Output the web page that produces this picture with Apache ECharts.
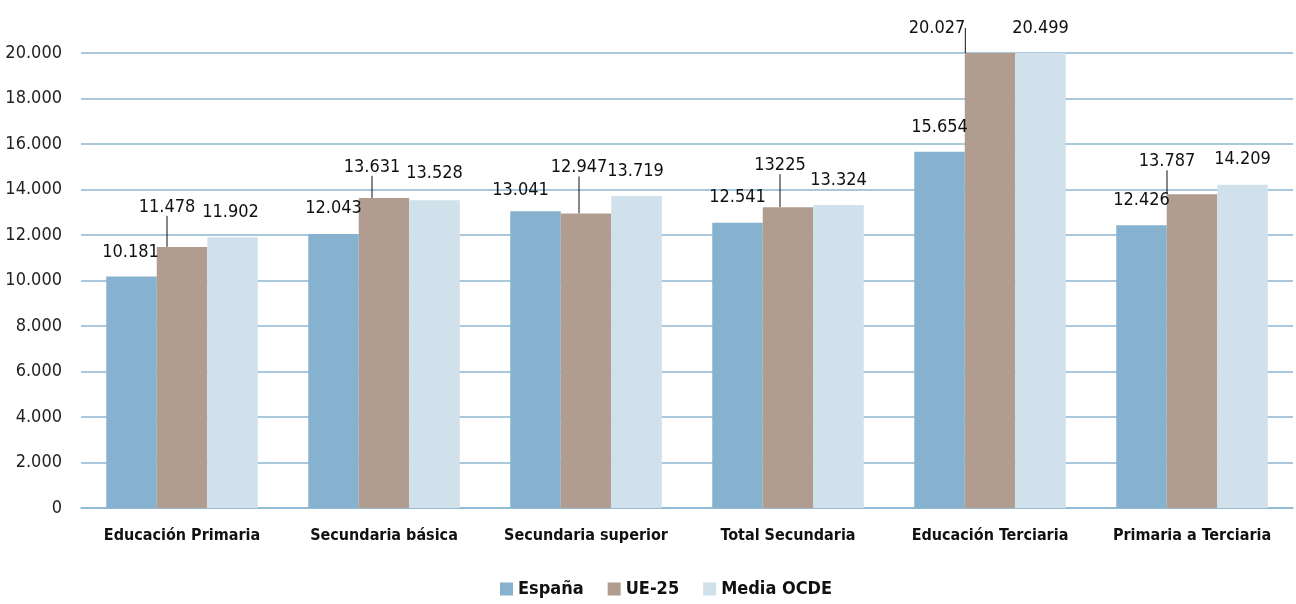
<!DOCTYPE html>
<html>
<head>
<meta charset="utf-8">
<script src="https://cdn.jsdelivr.net/npm/echarts@6/dist/echarts.min.js"></script>
<style>
html,body{margin:0;padding:0;background:#fff;}
#chart{width:1296px;height:604px;}
</style>
</head>
<body>
<div id="chart"></div>
<script>
const categories = ['Educación Primaria','Secundaria básica','Secundaria superior','Total Secundaria','Educación Terciaria','Primaria a Terciaria'];
const seriesNames = ['España','UE-25','Media OCDE'];
const espana = [10181, 12043, 13041, 12541, 15654, 12426];
const ue25 = [11478, 13631, 12947, 13225, 20027, 13787];
const ocde = [11902, 13528, 13719, 13324, 20499, 14209];
const labelTexts = [
  ['10.181','12.043','13.041','12.541','15.654','12.426'],
  ['11.478','13.631','12.947','13225','20.027','13.787'],
  ['11.902','13.528','13.719','13.324','20.499','14.209']
];
const yTicks = {min:0, max:20000, interval:2000};

// label nudges (dx, dy) relative to default top placement
const labelNudge = [
  [[-1,1],[0,-1],[-15,4],[0,0],[0,0],[0,0]],
  [[-15,-15],[-12,-6],[-7,-21],[-8,-17],[-53,0],[-25,-8]],
  [[-2,0],[0,-2],[-1,0],[0,0],[0,0],[0,0]]
];

const colors = ['#87B2CF','#B09D8F','#D0E1EB'];
const FONT = "'DejaVu Sans',sans-serif";
const STRETCH = 'condensed';

function fmtThousands(v){
  if (v === 0) return '0';
  return String(v).replace(/\B(?=(\d{3})+(?!\d))/g, '.');
}

const dataSets = [espana, ue25, ocde];
const series = dataSets.map((d, si) => ({
  name: seriesNames[si],
  type: 'bar',
  data: d,
  barGap: '0%',
  barCategoryGap: '25%',
  itemStyle: {color: colors[si]},
  label: {
    show: true,
    position: 'top',
    distance: 16,
    fontFamily: FONT,
    fontStyle: STRETCH,
    fontSize: 18,
    color: '#111',
    formatter: p => labelTexts[si][p.dataIndex]
  },
  labelLine: {
    show: si === 1,
    lineStyle: {color: '#111', width: 1}
  },
  labelLayout: function (params) {
    const n = labelNudge[si][params.dataIndex];
    return {dx: n[0], dy: n[1]};
  }
}));

const chart = echarts.init(document.getElementById('chart'), null, {renderer: 'canvas'});
chart.setOption({
  animation: false,
  color: colors,
  grid: {left: 81, right: 3, top: 53, bottom: 96, outerBoundsMode: 'none', containLabel: false},
  legend: {
    data: seriesNames,
    bottom: 1,
    left: 495,
    itemWidth: 13,
    itemHeight: 13,
    itemGap: 24,
    icon: 'rect',
    textStyle: {fontFamily: FONT, fontStyle: STRETCH, fontSize: 18, fontWeight: 'bold', color: '#111'}
  },
  xAxis: {
    type: 'category',
    data: categories,
    axisTick: {show: false},
    axisLine: {lineStyle: {color: '#8DB6D2', width: 1.5}},
    axisLabel: {interval: 0, fontFamily: FONT, fontStyle: STRETCH, fontSize: 16, fontWeight: 'bold', color: '#111', margin: 20}
  },
  yAxis: {
    type: 'value',
    min: yTicks.min,
    max: yTicks.max,
    interval: yTicks.interval,
    axisLine: {show: false},
    axisTick: {show: false},
    splitLine: {lineStyle: {color: '#8DB6D2', width: 1.5}},
    axisLabel: {fontFamily: FONT, fontStyle: STRETCH, fontSize: 18, color: '#222', margin: 19, formatter: fmtThousands}
  },
  series: series
});
</script>
</body>
</html>
